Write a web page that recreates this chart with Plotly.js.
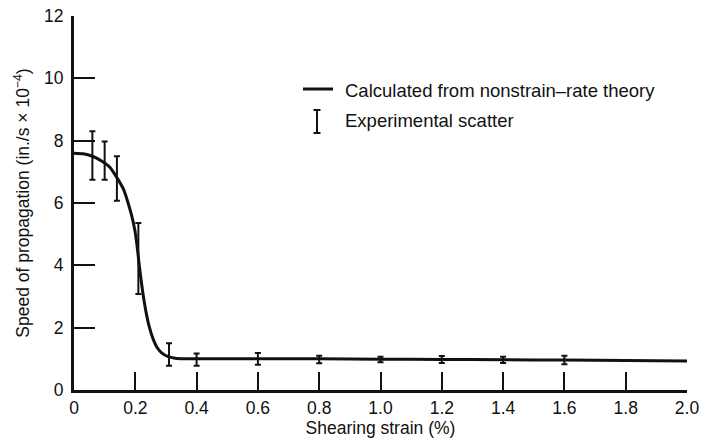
<!DOCTYPE html>
<html>
<head>
<meta charset="utf-8">
<script src="https://cdn.plot.ly/plotly-3.0.1.min.js"></script>
<style>
  html, body { margin: 0; padding: 0; background: #fff; }
  #chart { width: 705px; height: 438px; }
</style>
</head>
<body>
<div id="chart"></div>
<script>
// Theoretical curve: propagation speed vs. shearing strain
const theoryStrain = [0, 0.03, 0.06, 0.09, 0.117, 0.139, 0.161, 0.175, 0.188, 0.199, 0.206, 0.213, 0.22, 0.228, 0.236, 0.245, 0.258, 0.27, 0.285, 0.307, 0.33, 0.36, 0.4, 0.6, 0.8, 1.0, 1.2, 1.4, 1.6, 1.8, 2.0];
const theorySpeed  = [7.6, 7.58, 7.5, 7.35, 7.15, 6.83, 6.45, 6.05, 5.6, 5.1, 4.6, 4.0, 3.45, 2.9, 2.45, 2.05, 1.64, 1.38, 1.2, 1.07, 1.02, 1.0, 1.0, 1.0, 1.0, 0.99, 0.98, 0.97, 0.96, 0.95, 0.93];

// Experimental scatter: range of measured speeds at each strain
const expStrain = [0.06, 0.10, 0.14, 0.21, 0.31, 0.4, 0.6, 0.8, 1.0, 1.2, 1.4, 1.6];
const expLow    = [6.75, 6.75, 6.07, 3.08, 0.78, 0.78, 0.81, 0.86, 0.89, 0.87, 0.87, 0.83];
const expHigh   = [8.3, 7.97, 7.5, 5.36, 1.5, 1.17, 1.19, 1.1, 1.07, 1.09, 1.07, 1.1];

// Tick labels
const xTickVals = [0, 0.2, 0.4, 0.6, 0.8, 1.0, 1.2, 1.4, 1.6, 1.8, 2.0];
const xTickText = ['0', '0.2', '0.4', '0.6', '0.8', '1.0', '1.2', '1.4', '1.6', '1.8', '2.0'];
const yTickVals = [0, 2, 4, 6, 8, 10, 12];
const yTickText = ['0', '2', '4', '6', '8', '10', '12'];

const legendLabels = ['Calculated from nonstrain\u2013rate theory', 'Experimental scatter'];

const expMid = expLow.map((lo, i) => (lo + expHigh[i]) / 2);
const expPlus = expHigh.map((hi, i) => hi - expMid[i]);
const expMinus = expLow.map((lo, i) => expMid[i] - lo);

const FONT = '"Liberation Sans", Arial, Helvetica, sans-serif';

const traces = [
  {
    x: theoryStrain, y: theorySpeed, type: 'scatter', mode: 'lines',
    line: { color: '#111', width: 3, shape: 'spline', smoothing: 0.6 },
    hoverinfo: 'skip', cliponaxis: false
  },
  {
    x: expStrain, y: expMid, type: 'scatter', mode: 'markers',
    marker: { size: 1, color: 'rgba(0,0,0,0)' },
    error_y: {
      type: 'data', symmetric: false, array: expPlus, arrayminus: expMinus,
      color: '#111', thickness: 2, width: 3
    },
    hoverinfo: 'skip', cliponaxis: false
  }
];

// Legend glyphs in paper coordinates
const lx0 = 0.3736, lx1 = 0.4225, ly1 = 0.8048;
const bx = 0.3964, byTop = 0.7487, byBot = 0.6872, capHalf = 0.0057;

const layout = {
  width: 705, height: 438,
  margin: { l: 74, r: 18, t: 16, b: 48 },
  paper_bgcolor: '#fff', plot_bgcolor: '#fff',
  showlegend: false,
  font: { family: FONT, color: '#111', size: 17 },
  xaxis: {
    range: [0, 2], tickvals: xTickVals, ticktext: xTickText,
    ticks: 'inside', ticklen: 18, tickwidth: 2, tickcolor: '#111',
    showline: true, linecolor: '#111', linewidth: 3,
    showgrid: false, zeroline: false, fixedrange: true,
    tickfont: { family: FONT, size: 17.5, color: '#111' },
    title: { text: 'Shearing strain (%)', font: { family: FONT, size: 17.5, color: '#111' }, standoff: 3 }
  },
  yaxis: {
    range: [0, 12], tickvals: yTickVals, ticktext: yTickText,
    ticks: 'inside', ticklen: 21, tickwidth: 2, tickcolor: '#111',
    showline: true, linecolor: '#111', linewidth: 3,
    showgrid: false, zeroline: false, fixedrange: true,
    ticklabelstandoff: 4,
    tickfont: { family: FONT, size: 17.5, color: '#111' },
    title: { text: 'Speed of propagation (in./s \u00d7 10<sup>\u22124</sup>)', font: { family: FONT, size: 17.5, color: '#111' }, standoff: 10 }
  },
  shapes: [
    { type: 'line', xref: 'paper', yref: 'paper', x0: lx0, x1: lx1, y0: ly1, y1: ly1, line: { color: '#111', width: 3 } },
    { type: 'line', xref: 'paper', yref: 'paper', x0: bx, x1: bx, y0: byBot, y1: byTop, line: { color: '#111', width: 2 } },
    { type: 'line', xref: 'paper', yref: 'paper', x0: bx - capHalf, x1: bx + capHalf, y0: byTop, y1: byTop, line: { color: '#111', width: 2 } },
    { type: 'line', xref: 'paper', yref: 'paper', x0: bx - capHalf, x1: bx + capHalf, y0: byBot, y1: byBot, line: { color: '#111', width: 2 } }
  ],
  annotations: [
    { xref: 'paper', yref: 'paper', x: 0.4388, y: 0.7995, xanchor: 'left', yanchor: 'middle', showarrow: false,
      text: legendLabels[0], font: { family: FONT, size: 18.5, color: '#111' } },
    { xref: 'paper', yref: 'paper', x: 0.4388, y: 0.7193, xanchor: 'left', yanchor: 'middle', showarrow: false,
      text: legendLabels[1], font: { family: FONT, size: 18.5, color: '#111' } }
  ]
};

Plotly.newPlot('chart', traces, layout, { staticPlot: true, displayModeBar: false });
</script>
</body>
</html>
